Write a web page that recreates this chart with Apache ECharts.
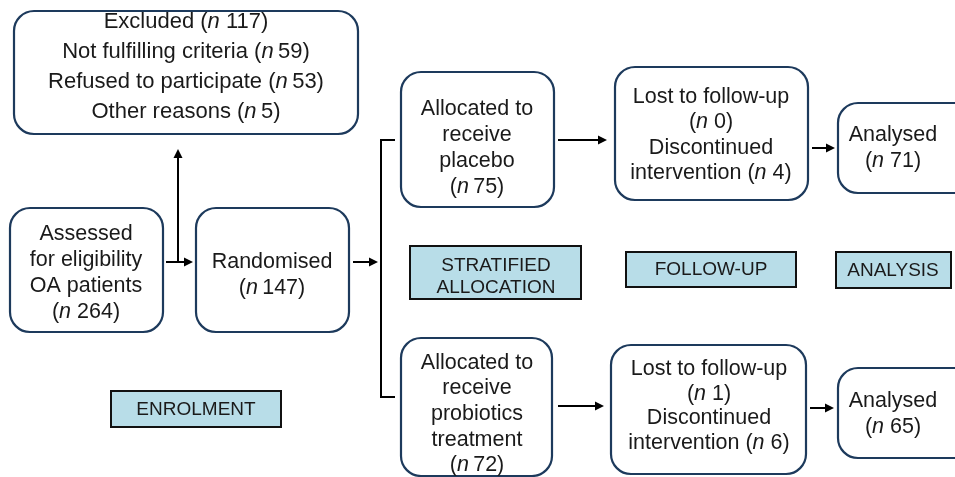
<!DOCTYPE html>
<html><head><meta charset="utf-8">
<script src="https://cdn.jsdelivr.net/npm/echarts@6/dist/echarts.min.js"></script>
<style>html,body{margin:0;padding:0;background:#fff}#c{width:955px;height:477px}</style>
</head><body><div id="c"></div>
<script>
// ---- data ----
const assessedCount = 264;
const excludedTotal = 117;
const exclusionReasons = ['Not fulfilling criteria', 'Refused to participate', 'Other reasons'];
const exclusionCounts = [59, 53, 5];
const randomisedCount = 147;
const armNames = ['placebo', 'probiotics\ntreatment'];
const armAllocated = [75, 72];
const armLost = [0, 1];
const armDiscontinued = [4, 6];
const armAnalysed = [71, 65];
const stageLabels = ['ENROLMENT', 'STRATIFIED\nALLOCATION', 'FOLLOW-UP', 'ANALYSIS'];

// ---- text builders ----
const nv = (v, sp) => '({i|n}' + (sp ? ' ' : '\u2009') + v + ')';
const txtExcluded = ['Excluded ' + nv(excludedTotal, true)]
  .concat(exclusionReasons.map((r, k) => r + ' ' + nv(exclusionCounts[k], false))).join('\n');
const txtAssessed = 'Assessed\nfor eligibility\nOA patients\n' + nv(assessedCount, true);
const txtRandom = 'Randomised\n' + nv(randomisedCount, false);
const txtAlloc = armNames.map((a, k) => 'Allocated to\nreceive\n' + a + '\n' + nv(armAllocated[k], false));
const txtLost = armLost.map((l, k) => 'Lost to follow-up\n' + nv(l, true) + '\nDiscontinued\nintervention ' + nv(armDiscontinued[k], true));
const txtAnalysed = armAnalysed.map(a => 'Analysed\n' + nv(a, true));

// ---- layout (positions / styles) ----
const BORDER = '#1d3a5c';
const FONT = '"Liberation Sans", Arial, sans-serif';
const els = [];
function box(x1, y1, x2, y2, text, tx, ty, lh, fs) {
  els.push({type: 'rect', shape: {x: x1, y: y1, width: x2 - x1, height: y2 - y1, r: 20},
    style: {fill: '#fff', stroke: BORDER, lineWidth: 2.2}});
  els.push({type: 'text', x: tx, y: ty, style: {text: text, fill: '#1a1a1a',
    font: fs + 'px ' + FONT, lineHeight: lh, align: 'center', verticalAlign: 'middle',
    rich: {i: {fontStyle: 'italic', fontSize: fs, fontFamily: FONT, lineHeight: lh, fill: '#1a1a1a'}}}});
}
function stage(x1, y1, x2, y2, text, tx, ty) {
  els.push({type: 'rect', shape: {x: x1, y: y1, width: x2 - x1, height: y2 - y1},
    style: {fill: '#b8dde8', stroke: '#111', lineWidth: 2}});
  els.push({type: 'text', x: tx, y: ty, style: {text: text, fill: '#1a1a1a',
    font: '19px ' + FONT, lineHeight: 22, align: 'center', verticalAlign: 'middle'}});
}
function line(pts) {
  els.push({type: 'polyline', shape: {points: pts}, style: {stroke: '#000', lineWidth: 2, fill: null}});
}
function arrowH(x1, x2, y) {
  line([[x1, y], [x2 - 7, y]]);
  els.push({type: 'polygon', shape: {points: [[x2, y], [x2 - 9, y - 4.5], [x2 - 9, y + 4.5]]}, style: {fill: '#000'}});
}
function arrowUp(x, y1, y2) {
  line([[x, y1], [x, y2 + 7]]);
  els.push({type: 'polygon', shape: {points: [[x, y2], [x - 4.5, y2 + 9], [x + 4.5, y2 + 9]]}, style: {fill: '#000'}});
}

box(14, 11, 358, 134, txtExcluded, 186, 67, 30, 22);
box(10, 208, 163, 332, txtAssessed, 86, 273, 26, 21.5);
box(196, 208, 349, 332, txtRandom, 272, 275, 26, 21.5);
box(401, 72, 554, 207, txtAlloc[0], 477, 148, 26, 21.5);
box(401, 338, 552, 476, txtAlloc[1], 477, 414, 25.7, 21.5);
box(615, 67, 808, 200, txtLost[0], 711, 135, 25.5, 21.5);
box(611, 345, 806, 474, txtLost[1], 709, 406, 24.8, 21.5);
box(838, 103, 975, 193, txtAnalysed[0], 893, 148, 26, 21.5);
box(838, 368, 975, 458, txtAnalysed[1], 893, 414, 26, 21.5);

stage(111, 391, 281, 427, stageLabels[0], 196, 410);
stage(410, 246, 581, 299, stageLabels[1], 496, 277);
stage(626, 252, 796, 287, stageLabels[2], 711, 270);
stage(836, 252, 951, 288, stageLabels[3], 893, 271);

arrowH(166, 193, 262);
arrowUp(178, 262, 149);
arrowH(353, 378, 262);
line([[395, 140], [381, 140], [381, 397], [395, 397]]);
arrowH(558, 607, 140);
arrowH(812, 835, 148);
arrowH(558, 604, 406);
arrowH(810, 834, 408);

const chart = echarts.init(document.getElementById('c'));
chart.setOption({animation: false, graphic: {elements: els}});
</script></body></html>
